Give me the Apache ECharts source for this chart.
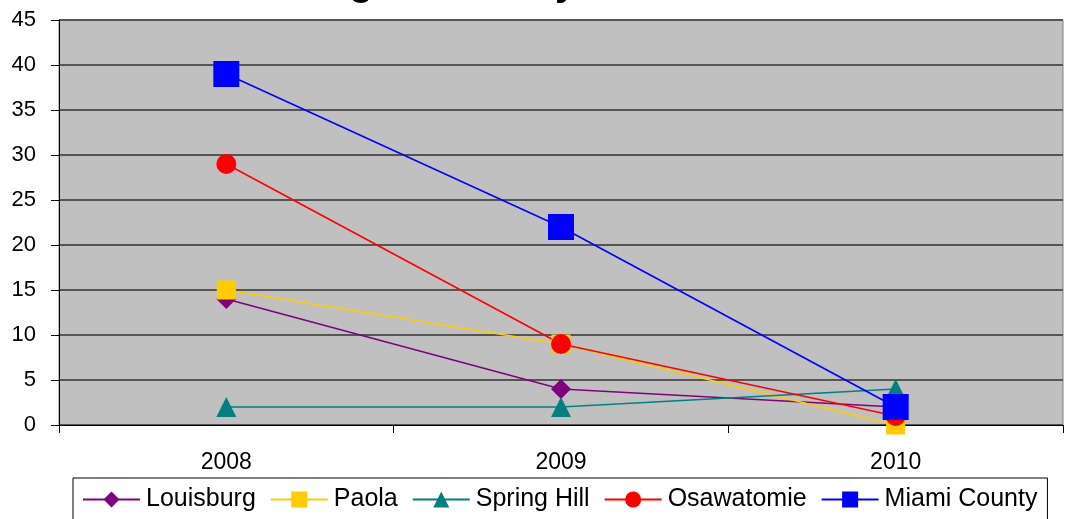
<!DOCTYPE html>
<html>
<head>
<meta charset="utf-8">
<script src="https://cdn.jsdelivr.net/npm/echarts@6/dist/echarts.min.js"></script>
<style>
  html, body { margin: 0; padding: 0; background: #fff; }
  #chart { width: 1067px; height: 519px; }
</style>
</head>
<body>
<div id="chart"></div>
<script>
// Yearly counts by city
const years = ['2008', '2009', '2010'];
const louisburg   = [14, 4, 2];
const paola       = [15, 9, 0];
const springHill  = [2, 2, 4];
const osawatomie  = [29, 9, 1];
const miamiCounty = [39, 22, 2];
const yTicks = { min: 0, max: 45, step: 5 };

const FONT = 'Liberation Sans, Arial, sans-serif';

function lineSeries(name, data, color, symbol, size) {
  return {
    name, type: 'line', data,
    symbol, symbolSize: size,
    lineStyle: { color, width: 1.6 },
    itemStyle: { color },
    emphasis: { disabled: true },
    animation: false
  };
}

const chart = echarts.init(document.getElementById('chart'), null, { renderer: 'canvas' });
chart.setOption({
  backgroundColor: '#ffffff',
  animation: false,
  graphic: [{
    type: 'text',
    left: 282,
    top: -35,
    style: { text: 'Drug Arrests by Town', font: 'bold 39px ' + FONT, fill: '#000' }
  }],
  grid: {
    left: 59, right: 4, top: 20, bottom: 94,
    show: true, backgroundColor: '#C0C0C0', borderColor: '#808080', borderWidth: 1
  },
  legend: {
    left: 73, top: 478,
    padding: [9, 10, 20, 9],
    borderColor: '#000', borderWidth: 1,
    itemWidth: 57, itemHeight: 20, itemGap: 14,
    textStyle: { fontFamily: FONT, fontSize: 25, color: '#000', padding: [0, 0, 0, 1] },
    data: ['Louisburg', 'Paola', 'Spring Hill', 'Osawatomie', 'Miami County']
  },
  xAxis: {
    type: 'category', data: years, boundaryGap: true,
    axisLine: { lineStyle: { color: '#000', width: 1 } },
    axisTick: { show: true, length: 8, lineStyle: { color: '#000' } },
    axisLabel: { fontFamily: FONT, fontSize: 23, color: '#000', margin: 26 },
    splitLine: { show: false }
  },
  yAxis: {
    type: 'value', min: yTicks.min, max: yTicks.max, interval: yTicks.step,
    axisLine: { show: true, lineStyle: { color: '#000', width: 1 } },
    axisTick: { show: true, length: 8, lineStyle: { color: '#000' } },
    axisLabel: { fontFamily: FONT, fontSize: 22, color: '#000', margin: 23 },
    splitLine: { show: true, lineStyle: { color: '#555', width: 2 } }
  },
  series: [
    lineSeries('Louisburg', louisburg, '#800080', 'diamond', 20),
    lineSeries('Paola', paola, '#FFCC00', 'rect', 19),
    lineSeries('Spring Hill', springHill, '#008080', 'triangle', 20),
    lineSeries('Osawatomie', osawatomie, '#FF0000', 'circle', 20),
    lineSeries('Miami County', miamiCounty, '#0000FF', 'rect', 26)
  ]
});
</script>
</body>
</html>
